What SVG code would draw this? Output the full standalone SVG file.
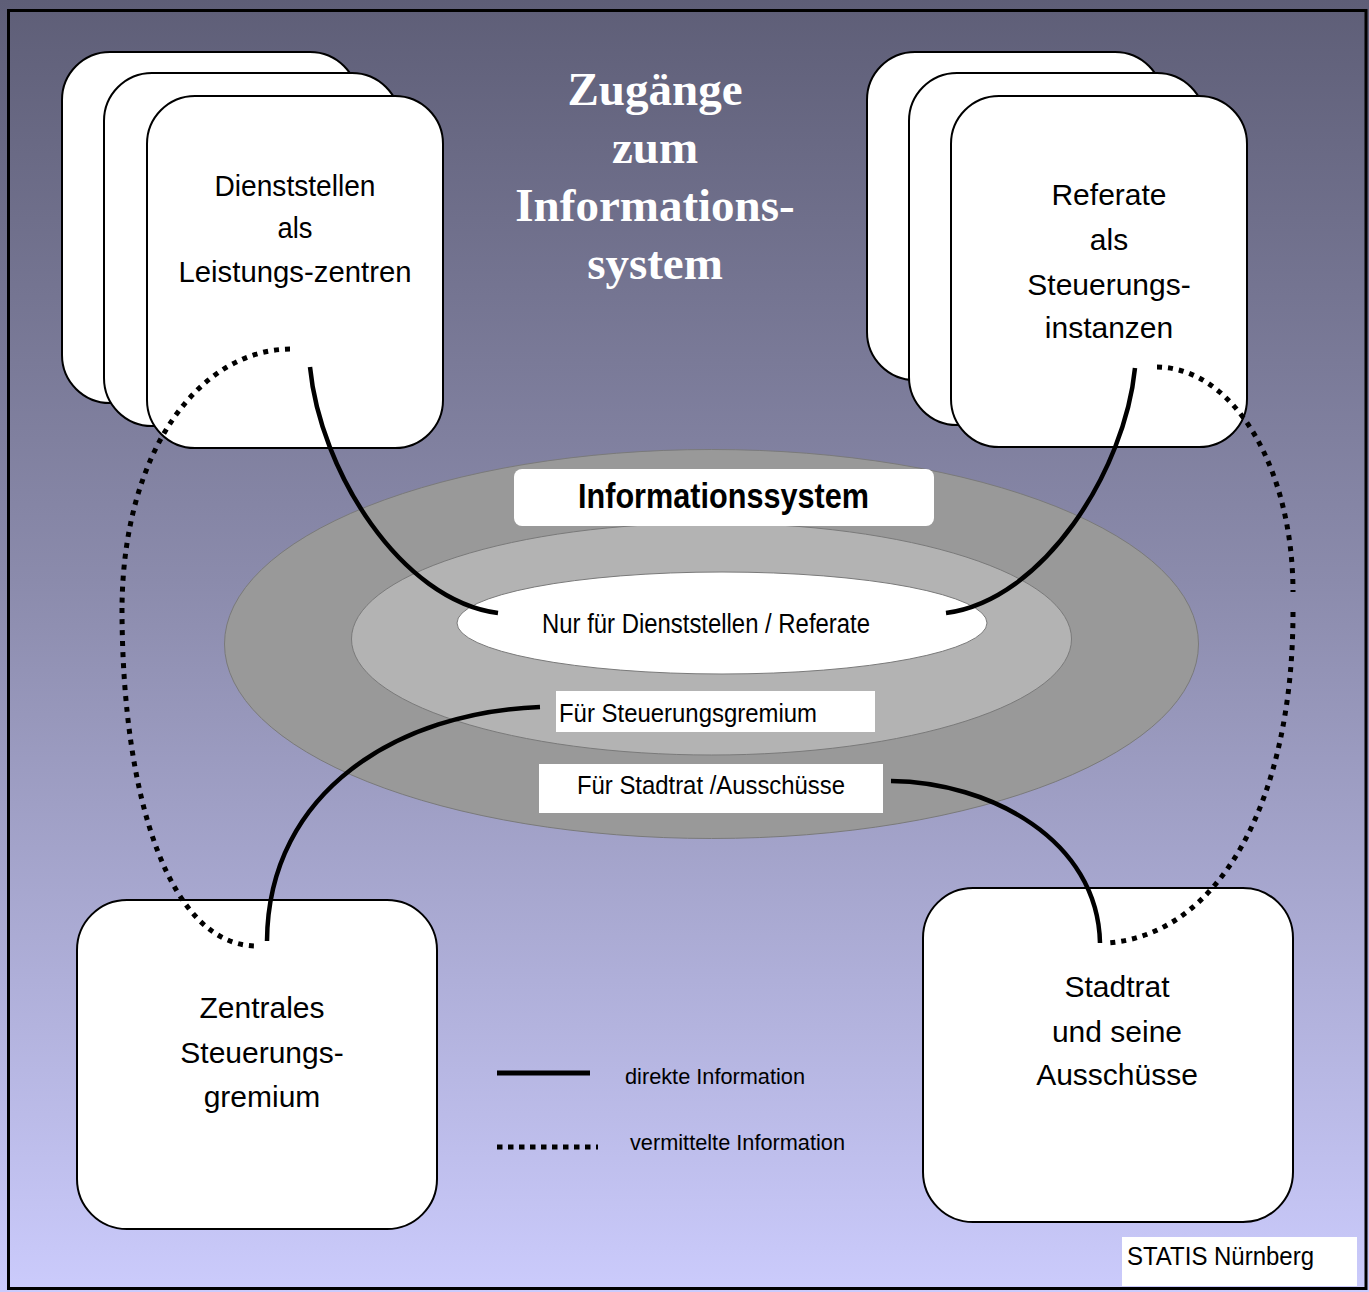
<svg xmlns="http://www.w3.org/2000/svg" width="1369" height="1292" viewBox="0 0 1369 1292">
<defs>
<linearGradient id="bg" x1="0" y1="0" x2="0" y2="1">
<stop offset="0" stop-color="#5e5e77"/>
<stop offset="0.45" stop-color="#8b8bac"/>
<stop offset="1" stop-color="#cbcbfc"/>
</linearGradient>
</defs>
<style>
.card{fill:#fff;stroke:#000;stroke-width:2}
.lbl{font-family:"Liberation Sans",Arial,sans-serif;fill:#000;text-anchor:middle}
.narrow{font-family:"Liberation Sans Narrow","Liberation Sans",Arial,sans-serif;fill:#000}
.title{font-family:"Liberation Serif","Times New Roman",serif;font-weight:bold;font-size:47px;fill:#fff;text-anchor:middle}
.solid{fill:none;stroke:#000;stroke-width:4.5}
.dot{fill:none;stroke:#000;stroke-width:5;stroke-dasharray:5 6}
</style>
<rect x="0" y="0" width="1369" height="1292" fill="url(#bg)"/>
<rect x="8.5" y="10.5" width="1357.5" height="1278" fill="none" stroke="#000" stroke-width="3"/>

<g id="title">
<text class="title" x="655" y="105">Zugänge</text>
<text class="title" x="655" y="163">zum</text>
<text class="title" x="655" y="221">Informations-</text>
<text class="title" x="655" y="279">system</text>
</g>

<g id="node-dienststellen">
<rect class="card" x="62" y="52" width="296" height="351" rx="48"/>
<rect class="card" x="104" y="73" width="296" height="353" rx="48"/>
<rect class="card" x="147" y="96" width="296" height="352" rx="48"/>
<text class="lbl" font-size="30" x="295" y="196" textLength="161" lengthAdjust="spacingAndGlyphs">Dienststellen</text>
<text class="lbl" font-size="30" x="295" y="238" textLength="35" lengthAdjust="spacingAndGlyphs">als</text>
<text class="lbl" font-size="30" x="295" y="282" textLength="233" lengthAdjust="spacingAndGlyphs">Leistungs-zentren</text>
</g>

<g id="node-referate">
<rect class="card" x="867" y="52" width="296" height="328" rx="48"/>
<rect class="card" x="909" y="73" width="296" height="352" rx="48"/>
<rect class="card" x="951" y="96" width="296" height="351" rx="48"/>
<text class="lbl" font-size="30" x="1109" y="205">Referate</text>
<text class="lbl" font-size="30" x="1109" y="250">als</text>
<text class="lbl" font-size="30" x="1109" y="295">Steuerungs-</text>
<text class="lbl" font-size="30" x="1109" y="338">instanzen</text>
</g>

<g id="node-informationssystem">
<ellipse cx="711.5" cy="644" rx="487" ry="194.5" fill="#999999" stroke="#7a7a7a" stroke-width="1"/>
<ellipse cx="711.5" cy="639" rx="360" ry="116" fill="#b3b3b3" stroke="#7a7a7a" stroke-width="1"/>
<ellipse cx="722" cy="623" rx="265" ry="51" fill="#ffffff" stroke="#7a7a7a" stroke-width="1"/>
<rect x="514" y="469" width="420" height="57" rx="8" fill="#fff"/>
<text class="narrow" font-size="35" font-weight="bold" x="578" y="508" textLength="291" lengthAdjust="spacingAndGlyphs">Informationssystem</text>
<text class="narrow" font-size="27" x="542" y="633" textLength="328" lengthAdjust="spacingAndGlyphs">Nur für Dienststellen / Referate</text>
<rect x="556" y="691" width="319" height="41" fill="#fff"/>
<text class="narrow" font-size="25" x="559" y="722" textLength="258" lengthAdjust="spacingAndGlyphs">Für Steuerungsgremium</text>
<rect x="539" y="764" width="344" height="49" fill="#fff"/>
<text class="narrow" font-size="25" x="577" y="794" textLength="268" lengthAdjust="spacingAndGlyphs">Für Stadtrat /Ausschüsse</text>
</g>

<g id="node-steuerungsgremium">
<rect class="card" x="77" y="900" width="360" height="329" rx="50"/>
<text class="lbl" font-size="30" x="262" y="1018">Zentrales</text>
<text class="lbl" font-size="30" x="262" y="1063">Steuerungs-</text>
<text class="lbl" font-size="30" x="262" y="1107">gremium</text>
</g>

<g id="node-stadtrat">
<rect class="card" x="923" y="888" width="370" height="334" rx="50"/>
<text class="lbl" font-size="30" x="1117" y="997">Stadtrat</text>
<text class="lbl" font-size="30" x="1117" y="1042">und seine</text>
<text class="lbl" font-size="30" x="1117" y="1085">Ausschüsse</text>
</g>

<g id="connectors">
<path class="solid" d="M310,367 C320,470 400,600 498,613"/>
<path class="solid" d="M1135,368 C1125,470 1044,600 946,613"/>
<path class="solid" d="M540,707 C400,712 268,790 267,941"/>
<path class="solid" d="M891,781 C990,782 1098,840 1100,943"/>
<path class="dot" d="M290,349 C200,350 123,450 122,608"/>
<path class="dot" d="M122,608 C122,800 170,945 256,946"/>
<path class="dot" d="M1157,367 C1235,368 1293,470 1293,592"/>
<path class="dot" d="M1293,612 C1293,800 1220,935 1107,943"/>
</g>

<g id="legend">
<line x1="497" y1="1073" x2="590" y2="1073" stroke="#000" stroke-width="5"/>
<line x1="497" y1="1147" x2="598" y2="1147" stroke="#000" stroke-width="5" stroke-dasharray="5.5 5.5"/>
<text class="narrow" font-size="22" x="625" y="1084" textLength="180" lengthAdjust="spacingAndGlyphs">direkte Information</text>
<text class="narrow" font-size="22" x="630" y="1150" textLength="215" lengthAdjust="spacingAndGlyphs">vermittelte Information</text>
</g>

<g id="credit">
<rect x="1122" y="1237" width="235" height="49" fill="#fff"/>
<text class="narrow" font-size="26" x="1127" y="1265" textLength="187" lengthAdjust="spacingAndGlyphs">STATIS Nürnberg</text>
</g>
</svg>
